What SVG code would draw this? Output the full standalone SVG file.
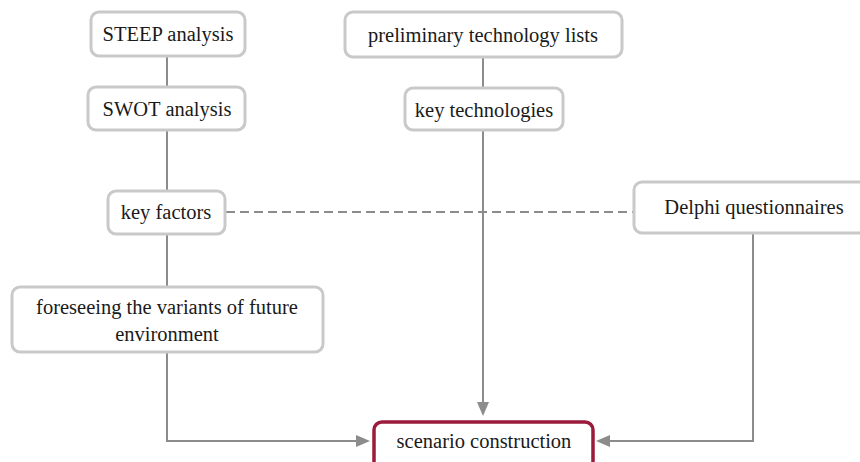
<svg xmlns="http://www.w3.org/2000/svg" width="860" height="462" viewBox="0 0 860 462">
<style>
.box{fill:#fff;stroke:#c9c9c9;stroke-width:3}
.main{fill:#fff;stroke:#9b1b3b;stroke-width:3.5}
.t{font-family:"Liberation Serif","Times New Roman",serif;font-size:20.5px;fill:#1a1a1a;text-anchor:middle}
.ln{fill:none;stroke:#8c8c8c;stroke-width:2}
.dash{fill:none;stroke:#8c8c8c;stroke-width:2;stroke-dasharray:9,5}
</style>
<g id="connectors">
<line class="ln" x1="167" y1="56" x2="167" y2="86"/>
<line class="ln" x1="167" y1="130" x2="167" y2="191"/>
<line class="ln" x1="167" y1="234" x2="167" y2="287"/>
<polyline class="ln" points="167,352 167,441 358,441"/>
<path d="M356,435 L370,441 L356,447 Z" fill="#8c8c8c"/>
<line class="ln" x1="483" y1="57" x2="483" y2="88"/>
<line class="ln" x1="483" y1="130" x2="483" y2="403"/>
<path d="M477,402 L483,416 L489,402 Z" fill="#8c8c8c"/>
<line class="dash" x1="226" y1="212" x2="633" y2="212"/>
<polyline class="ln" points="753,233 753,441 608,441"/>
<path d="M610,435 L596,441 L610,447 Z" fill="#8c8c8c"/>
</g>
<g id="steep"><rect class="box" x="91" y="12" width="154" height="44" rx="8"/><text class="t" x="168" y="41">STEEP analysis</text></g>
<g id="swot"><rect class="box" x="88" y="87" width="157" height="43" rx="8"/><text class="t" x="167" y="116">SWOT analysis</text></g>
<g id="prelim"><rect class="box" x="345" y="12" width="277" height="45" rx="8"/><text class="t" x="483" y="42">preliminary technology lists</text></g>
<g id="keytech"><rect class="box" x="405" y="88" width="158" height="42" rx="8"/><text class="t" x="484" y="117">key technologies</text></g>
<g id="keyfactors"><rect class="box" x="108" y="191" width="117" height="43" rx="8"/><text class="t" x="166" y="219">key factors</text></g>
<g id="delphi"><rect class="box" x="634" y="182" width="236" height="51" rx="8"/><text class="t" x="754" y="214">Delphi questionnaires</text></g>
<g id="foreseeing"><rect class="box" x="12" y="287" width="311" height="65" rx="8"/><text class="t" x="167" y="314">foreseeing the variants of future</text><text class="t" x="167" y="341">environment</text></g>
<g id="scenario"><rect class="main" x="374" y="422" width="219" height="52" rx="8"/><text class="t" x="484" y="448">scenario construction</text></g>
</svg>
